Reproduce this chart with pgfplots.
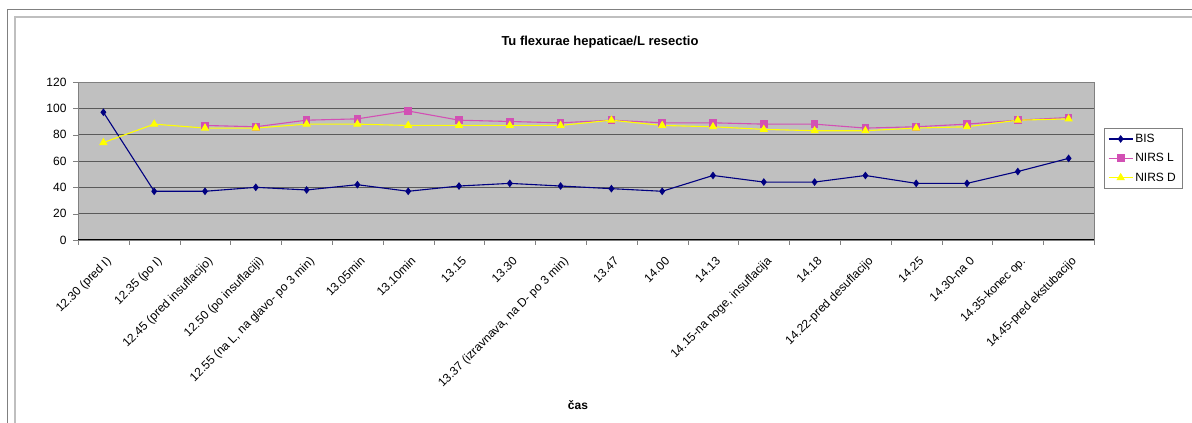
\documentclass[border=0pt]{standalone}
\usepackage{pgfplots}
\pgfplotsset{compat=1.18}
\usepackage{fontspec}
\setmainfont{Liberation Sans}
\definecolor{plotbg}{RGB}{192,192,192}
\definecolor{bisc}{RGB}{0,0,128}
\definecolor{nirsl}{RGB}{210,80,180}
\definecolor{nirsd}{RGB}{255,255,0}
\definecolor{gridc}{RGB}{90,90,90}
\definecolor{framec}{RGB}{128,128,128}
\begin{document}
\begin{tikzpicture}[x=1pt,y=1pt]
\useasboundingbox (0,0) rectangle (1192,423);
\draw[framec, line width=1pt] (7,0) -- (7,413) -- (1192,413);
\draw[gray!50, line width=2pt] (15,0) -- (15,406) -- (1192,406);
\node[font=\fontsize{13}{15}\selectfont\bfseries] at (600,381) {Tu flexurae hepaticae/L resectio};
\node[font=\fontsize{12}{14}\selectfont\bfseries] at (578,18) {čas};
\begin{axis}[at={(78pt,183pt)}, anchor=south west,
  width=1016pt, height=158pt, scale only axis,
  xmin=-0.5, xmax=19.5, ymin=0, ymax=120,
  ytick={0,20,...,120},
  xtick={0,...,19},
  minor xtick={-0.5,0.5,...,19.5},
  major x tick style={draw=none},
  minor x tick style={draw=framec},
  minor tick length=5pt,
  major tick length=5pt,
  tick align=outside,
  ytick style={draw=framec},
  xtick pos=bottom, ytick pos=left,
  axis background/.style={fill=plotbg},
  axis line style={draw=framec},
  ymajorgrids, major grid style={draw=gridc, line width=0.9pt},
  /pgf/number format/assume math mode=true,
  yticklabel style={font=\fontsize{12}{14}\selectfont, xshift=-3pt},
  xticklabel style={font=\fontsize{12}{14}\selectfont, rotate=45, anchor=north east, inner sep=1pt, yshift=-8pt, xshift=-5pt},
  xticklabels={12.30 (pred I),12.35 (po I),12.45 (pred insuflacijo),12.50 (po insuflaciji),{12.55 (na L, na glavo- po 3 min)},13.05min,13.10min,13.15,13.30,{13.37 (izravnava, na D- po 3 min)},13.47,14.00,14.13,{14.15-na noge, insuflacija},14.18,14.22-pred desuflacijo,14.25,14.30-na 0,14.35-konec op.,14.45-pred ekstubacijo},
  legend style={at={(1.0098,0.71)}, anchor=north west, draw=framec, font=\fontsize{12}{14}\selectfont, row sep=5.5pt, inner xsep=4pt, inner ysep=4pt},
  legend cell align=left,
  legend image code/.code={\draw[mark repeat=2,mark phase=2] plot coordinates {(0pt,0pt) (12pt,0pt) (24pt,0pt)};},
  clip=false,
]
\addplot[color=bisc, line width=1.1pt, mark=diamond*, mark size=3pt, mark options={solid, fill=bisc, draw=bisc}] coordinates {
(0,97) (1,37) (2,37) (3,40) (4,38) (5,42) (6,37) (7,41) (8,43) (9,41) (10,39) (11,37) (12,49) (13,44) (14,44) (15,49) (16,43) (17,43) (18,52) (19,62)};
\addlegendentry{BIS}
\addplot[color=nirsl, line width=1.1pt, mark=square*, mark size=3.3pt, mark options={solid, fill=nirsl, draw=nirsl}] coordinates {
(2,87) (3,86) (4,91) (5,92) (6,98) (7,91) (8,90) (9,89) (10,91) (11,89) (12,89) (13,88) (14,88) (15,85) (16,86) (17,88) (18,91) (19,93)};
\addlegendentry{NIRS L}
\addplot[color=nirsd, line width=1.1pt, mark=triangle*, mark size=3.8pt, mark options={solid, fill=nirsd, draw=nirsd}] coordinates {
(0,74) (1,88) (2,85) (3,85) (4,88) (5,88) (6,87) (7,87) (8,87) (9,87) (10,91) (11,87) (12,86) (13,84) (14,83) (15,83) (16,85) (17,86) (18,91) (19,92)};
\addlegendentry{NIRS D}
\draw[black, line width=1pt] (rel axis cs:0,0) -- (rel axis cs:1,0);
\end{axis}
\end{tikzpicture}
\end{document}
